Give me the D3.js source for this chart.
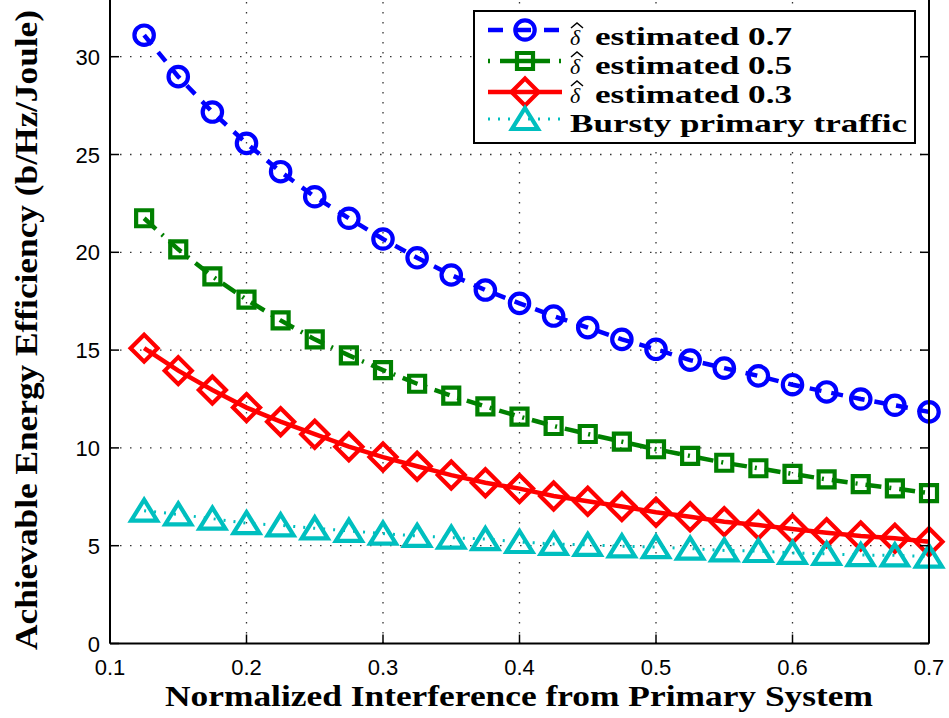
<!DOCTYPE html>
<html><head><meta charset="utf-8">
<script src="https://cdn.jsdelivr.net/npm/d3@7"></script>
<style>body{margin:0;background:#fff}svg{display:block}</style>
</head><body>
<svg id="c" width="949" height="718"></svg>
<script>
const xValues = [0.125,0.15,0.175,0.2,0.225,0.25,0.275,0.3,0.325,0.35,0.375,0.4,0.425,0.45,0.475,0.5,0.525,0.55,0.575,0.6,0.625,0.65,0.675,0.7];
const est07 = [31.1,28.98,27.17,25.57,24.12,22.84,21.74,20.68,19.72,18.84,18.07,17.39,16.74,16.15,15.55,15.04,14.49,14.08,13.68,13.23,12.86,12.5,12.18,11.84];
const est05 = [21.74,20.15,18.77,17.58,16.52,15.55,14.73,13.98,13.28,12.67,12.12,11.6,11.12,10.71,10.32,9.93,9.59,9.24,8.96,8.67,8.39,8.15,7.93,7.69];
const est03 = [15.1,13.95,12.96,12.06,11.34,10.7,10.06,9.53,9.06,8.61,8.22,7.92,7.54,7.27,7.0,6.71,6.48,6.23,6.06,5.85,5.66,5.5,5.38,5.2];
const bursty = [6.79,6.6,6.38,6.15,6.04,5.89,5.76,5.62,5.5,5.41,5.34,5.19,5.09,5.04,4.97,4.93,4.85,4.76,4.73,4.63,4.58,4.52,4.51,4.44];
const xTicks = [0.1,0.2,0.3,0.4,0.5,0.6,0.7];
const yTicks = [0,5,10,15,20,25,30];
const seriesNames = ["estimated 0.7","estimated 0.5","estimated 0.3","Bursty primary traffic"];
const xLabel = "Normalized Interference from Primary System";
const yLabel = "Achievable Energy Efficiency (b/Hz/Joule)";

const svg = d3.select("#c");
const L = 110, R = 929, B = 643.5;
const x = d3.scaleLinear().domain([0.1,0.7]).range([L,R]);
const y = d3.scaleLinear().domain([0,30]).range([B,56.7]);
const T = y(35);
const SERIF = "'Liberation Serif', 'Times New Roman', serif";
const SANS = "'Liberation Sans', Arial, sans-serif";

const series = [
  {name: seriesNames[0], vals: est07, color:"#0000ff", dash:"12,10", ldash:"15,13", marker:"circle", hat:true},
  {name: seriesNames[1], vals: est05, color:"#008000", dash:"16,8,2,8", ldash:"2,10,50,9,2", marker:"square", hat:true},
  {name: seriesNames[2], vals: est03, color:"#ff0000", dash:null, ldash:null, marker:"diamond", hat:true},
  {name: seriesNames[3], vals: bursty, color:"#00bfbf", dash:"2,8", ldash:"2,8", marker:"triangle", hat:false}
];

// grid
const g = svg.append("g");
g.selectAll(".gx").data(xTicks.slice(1,-1)).enter().append("line")
  .attr("x1",d=>x(d)).attr("x2",d=>x(d)).attr("y1",B).attr("y2",T)
  .attr("stroke","#333").attr("stroke-width",1.3).attr("stroke-dasharray","1.5,8.5");
g.selectAll(".gy").data(yTicks.slice(1)).enter().append("line")
  .attr("y1",d=>y(d)).attr("y2",d=>y(d)).attr("x1",L).attr("x2",R)
  .attr("stroke","#333").attr("stroke-width",1.3).attr("stroke-dasharray","1.5,8.5");

function markerPath(type){
  if(type==="circle") return d3.symbol().type(d3.symbolCircle).size(Math.PI*9.7*9.7)();
  if(type==="square") return "M-8,-8L8,-8L8,8L-8,8Z";
  if(type==="diamond") return "M0,-13.5L13.5,0L0,13.5L-13.5,0Z";
  if(type==="triangle") return "M0,-11L13,10L-13,10Z";
}

const line = d3.line().x(d=>x(d[0])).y(d=>y(d[1]));
series.forEach(s=>{
  const pts = xValues.map((v,i)=>[v,s.vals[i]]);
  const sg = svg.append("g");
  sg.append("path").attr("d",line(pts)).attr("fill","none").attr("stroke",s.color)
    .attr("stroke-width",s.marker==="triangle"?3:4.5).attr("stroke-dasharray",s.dash);
  sg.selectAll("path.m").data(pts).enter().append("path").attr("class","m")
    .attr("d",markerPath(s.marker)).attr("transform",d=>`translate(${x(d[0])},${y(d[1])})`)
    .attr("fill","none").attr("stroke",s.color).attr("stroke-width",4.2).attr("stroke-linejoin","miter");
});

// axes box
const ax = svg.append("g");
ax.append("line").attr("x1",L).attr("x2",L).attr("y1",B).attr("y2",T).attr("stroke","#000").attr("stroke-width",2);
ax.append("line").attr("x1",R).attr("x2",R).attr("y1",B).attr("y2",T).attr("stroke","#000").attr("stroke-width",2);
ax.append("line").attr("x1",L).attr("x2",R).attr("y1",B).attr("y2",B).attr("stroke","#000").attr("stroke-width",2);
ax.selectAll(".tx").data(xTicks).enter().append("line")
  .attr("x1",d=>x(d)).attr("x2",d=>x(d)).attr("y1",B).attr("y2",B-9).attr("stroke","#000").attr("stroke-width",1.5);
ax.selectAll(".tyl").data(yTicks).enter().append("line")
  .attr("x1",L).attr("x2",L+9).attr("y1",d=>y(d)).attr("y2",d=>y(d)).attr("stroke","#000").attr("stroke-width",1.5);
ax.selectAll(".tyr").data(yTicks).enter().append("line")
  .attr("x1",R).attr("x2",R-9).attr("y1",d=>y(d)).attr("y2",d=>y(d)).attr("stroke","#000").attr("stroke-width",1.5);

ax.selectAll(".xl").data(xTicks).enter().append("text")
  .attr("x",d=>x(d)).attr("y",675).attr("text-anchor","middle")
  .attr("font-family",SANS).attr("font-size",22)
  .text(d=>d3.format(".1f")(d));
ax.selectAll(".yl").data(yTicks).enter().append("text")
  .attr("x",100).attr("y",d=>y(d)+8).attr("text-anchor","end")
  .attr("font-family",SANS).attr("font-size",22)
  .text(d=>d);

svg.append("text").attr("x",519).attr("y",706).attr("text-anchor","middle")
  .attr("font-family",SERIF).attr("font-weight","bold").attr("font-size",29)
  .attr("textLength",708).attr("lengthAdjust","spacingAndGlyphs").text(xLabel);
svg.append("text").attr("transform","translate(37,330) rotate(-90)").attr("text-anchor","middle")
  .attr("font-family",SERIF).attr("font-weight","bold").attr("font-size",31)
  .attr("textLength",640).attr("lengthAdjust","spacingAndGlyphs").text(yLabel);

// legend
const lg = svg.append("g");
lg.append("rect").attr("x",474).attr("y",11).attr("width",441).attr("height",132)
  .attr("fill","#fff").attr("stroke","#000").attr("stroke-width",2);
const markY = [30,61,92,119];
const baseY = [45,74,103,132];
series.forEach((s,i)=>{
  const yy = markY[i];
  lg.append("line").attr("x1",488).attr("x2",562).attr("y1",yy).attr("y2",yy)
    .attr("stroke",s.color).attr("stroke-width",s.marker==="triangle"?3:4.5).attr("stroke-dasharray",s.ldash);
  lg.append("path").attr("d",markerPath(s.marker)).attr("transform",`translate(525,${yy})`)
    .attr("fill","none").attr("stroke",s.color).attr("stroke-width",4.2);
  const by = baseY[i];
  if(s.hat){
    lg.append("text").attr("x",570).attr("y",by)
      .attr("font-family",SERIF).attr("font-style","italic").attr("font-size",22).text("\u03B4");
    lg.append("path").attr("d",`M${571},${by-17} L${577},${by-22} L${583},${by-17}`)
      .attr("fill","none").attr("stroke","#000").attr("stroke-width",1.5);
    lg.append("text").attr("x",595).attr("y",by)
      .attr("font-family",SERIF).attr("font-weight","bold").attr("font-size",26)
      .attr("textLength",197).attr("lengthAdjust","spacingAndGlyphs").text(s.name);
  } else {
    lg.append("text").attr("x",570).attr("y",by)
      .attr("font-family",SERIF).attr("font-weight","bold").attr("font-size",26)
      .attr("textLength",337).attr("lengthAdjust","spacingAndGlyphs").text(s.name);
  }
});
</script>
</body></html>
